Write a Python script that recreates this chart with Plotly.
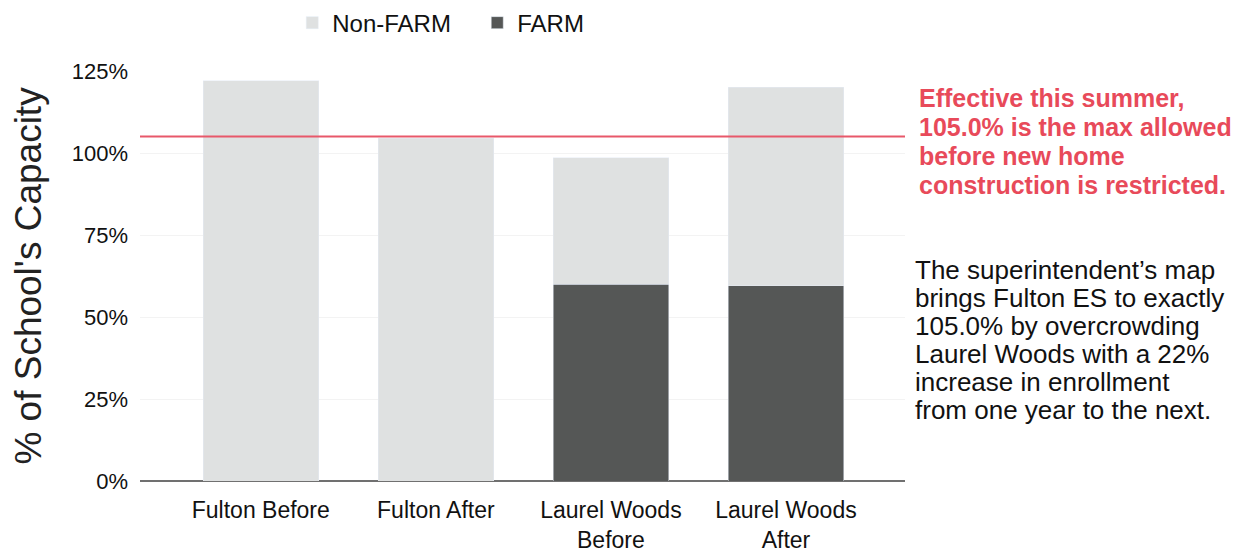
import plotly.graph_objects as go

categories = ["Fulton Before", "Fulton After", "Laurel Woods<br>Before", "Laurel Woods<br>After"]
farm = [0, 0, 60.0, 59.5]
non_farm = [122.0, 104.5, 38.5, 60.5]
max_allowed = 105.0
y_ticks = [0, 25, 50, 75, 100, 125]
y_tick_labels = ["0%", "25%", "50%", "75%", "100%", "125%"]

red_note_lines = ["Effective this summer,", "105.0% is the max allowed",
                  "before new home", "construction is restricted."]
black_note_lines = ["The superintendent\u2019s map", "brings Fulton ES to exactly",
                    "105.0% by overcrowding", "Laurel Woods with a 22%",
                    "increase in enrollment", "from one year to the next."]

fig = go.Figure()
fig.add_trace(go.Bar(x=categories, y=farm, name="FARM", marker_color="#555756", width=0.66))
fig.add_trace(go.Bar(x=categories, y=non_farm, name="Non-FARM", marker_color="#dfe1e1", width=0.66))

fig.add_shape(type="line", xref="paper", x0=0, x1=1, yref="y", y0=max_allowed, y1=max_allowed,
              line=dict(color="#e8586a", width=2))

for i, line in enumerate(red_note_lines):
    fig.add_annotation(xref="paper", yref="paper", x=1.016, y=0.934, yshift=-29 * i,
                       xanchor="left", yanchor="middle", text="<b>" + line + "</b>", showarrow=False,
                       font=dict(family="Arial, Liberation Sans", size=25, color="#e84a5a"))
for i, line in enumerate(black_note_lines):
    fig.add_annotation(xref="paper", yref="paper", x=1.011, y=0.5146, yshift=-28 * i,
                       xanchor="left", yanchor="middle", text=line, showarrow=False,
                       font=dict(family="Arial, Liberation Sans", size=26, color="#111111"))

fig.update_layout(
    width=1247, height=548,
    barmode="stack",
    bargap=0.34,
    plot_bgcolor="white", paper_bgcolor="white",
    margin=dict(l=132, r=350, t=63, b=75, autoexpand=False),
    font=dict(family="Arial, Liberation Sans", color="#111111"),
    legend=dict(orientation="h", traceorder="reversed", x=0.199, xanchor="left", y=1.117, yanchor="middle",
                entrywidth=140, font=dict(size=24, color="#111111")),
    xaxis=dict(range=[-0.69, 3.68], showgrid=False, showline=False, ticks="", automargin=False,
               ticklabelstandoff=13, tickfont=dict(size=23, color="#111111")),
    yaxis=dict(range=[0, 125], tickvals=y_ticks, ticktext=y_tick_labels, showgrid=True, gridcolor="#f3f3f3",
               zeroline=True, zerolinecolor="#707070", zerolinewidth=2, showline=False, automargin=False,
               ticklabelstandoff=11, tickfont=dict(size=22, color="#111111"),
               title=dict(text="% of School's Capacity", font=dict(size=37, color="#222222"), standoff=19)),
)

fig.write_html("out.html")
